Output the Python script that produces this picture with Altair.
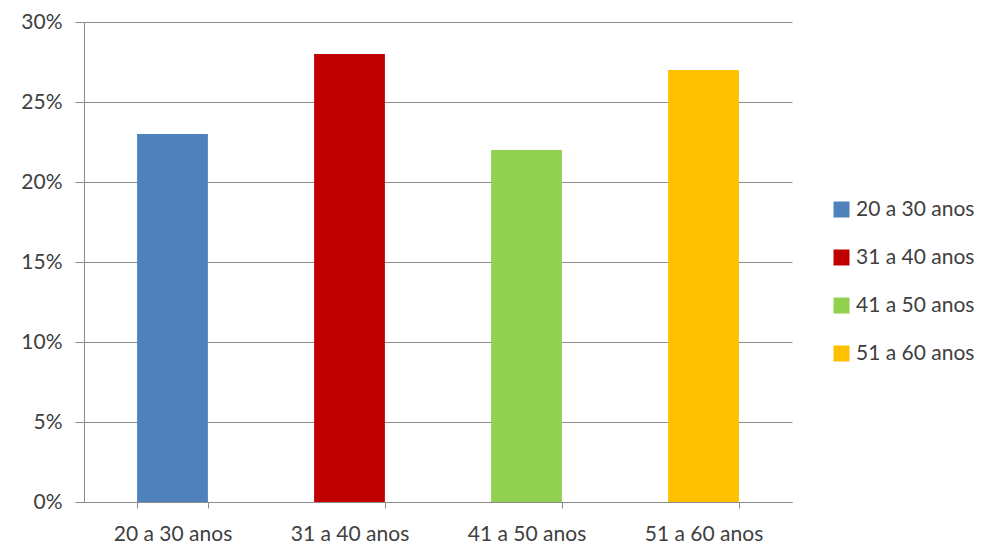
import altair as alt
import pandas as pd

categories = ["20 a 30 anos", "31 a 40 anos", "41 a 50 anos", "51 a 60 anos"]
values = [23, 28, 22, 27]
colors = ["#4F81BD", "#C00000", "#92D050", "#FFC000"]

df = pd.DataFrame({"faixa": categories, "valor": values})

FONT = "Lato"
TEXT = "#404040"
GRID = "#8c8c8c"
FS = 21

chart = alt.Chart(df).mark_bar().encode(
    x=alt.X(
        "faixa:N",
        sort=categories,
        title=None,
        scale=alt.Scale(paddingInner=0.6, paddingOuter=0.3),
        axis=alt.Axis(
            labelAngle=0,
            labelFont=FONT,
            labelFontSize=FS,
            labelColor=TEXT,
            labelPadding=15,
            ticks=True,
            tickBand="extent",
            tickSize=6,
            tickColor=GRID,
            domainColor=GRID,
            grid=False,
        ),
    ),
    y=alt.Y(
        "valor:Q",
        title=None,
        scale=alt.Scale(domain=[0, 30]),
        axis=alt.Axis(
            values=[0, 5, 10, 15, 20, 25, 30],
            labelExpr="datum.value + '%'",
            labelFont=FONT,
            labelFontSize=FS,
            labelColor=TEXT,
            labelPadding=13,
            ticks=True,
            tickSize=9,
            tickColor=GRID,
            domainColor=GRID,
            gridColor=GRID,
            gridWidth=1,
        ),
    ),
    color=alt.Color(
        "faixa:N",
        sort=categories,
        scale=alt.Scale(domain=categories, range=colors),
        legend=alt.Legend(
            title=None,
            orient="none",
            legendX=747,
            legendY=177,
            symbolType="square",
            symbolSize=256,
            symbolStrokeWidth=0,
            labelFont=FONT,
            labelFontSize=FS,
            labelColor=TEXT,
            rowPadding=26,
            labelOffset=4,
        ),
    ),
).properties(
    width=708,
    height=480,
    background="white",
    autosize=alt.AutoSizeParams(type="none"),
    padding={"left": 84, "top": 22, "right": 200, "bottom": 47},
).configure_view(strokeWidth=0, stroke="transparent")

chart.save("out.html", embed_options={"renderer": "svg", "actions": False})
